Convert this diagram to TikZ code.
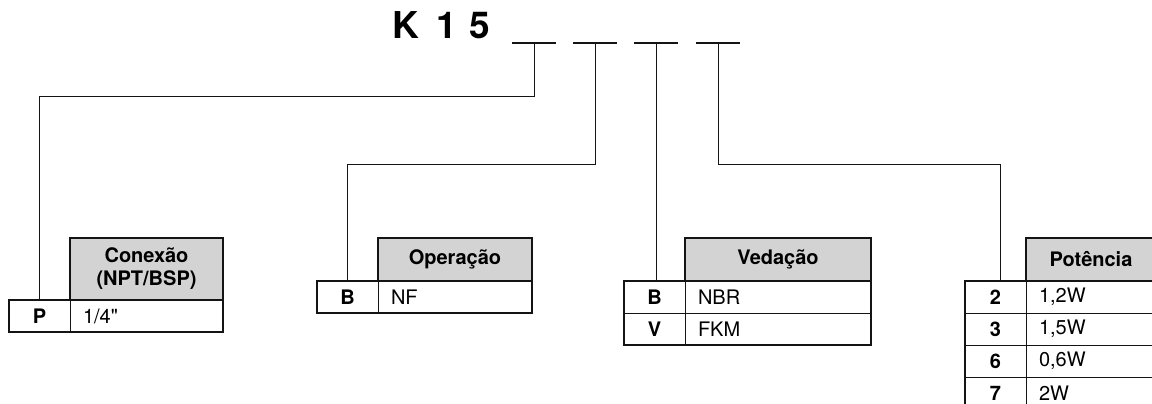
\documentclass[tikz,border=0pt]{standalone}
\usepackage{fontspec}
\setmainfont{TeX Gyre Heros}
\usetikzlibrary{calc}
\definecolor{hdr}{RGB}{211,211,211}
\definecolor{ink}{RGB}{20,20,20}
\newcommand{\straightquote}{\XeTeXglyph\the\XeTeXcharglyph"22\relax}
\begin{document}
\begin{tikzpicture}[x=1pt,y=-1pt,
  hdrbox/.style={draw=ink, fill=hdr, line width=2.2pt, inner sep=0pt, outer sep=0pt,
    anchor=north west, align=center, font=\fontsize{20}{23}\selectfont\bfseries},
  keycell/.style={draw=ink, line width=0.8pt, inner sep=0pt, outer sep=0pt, anchor=north west,
    minimum width=61pt, minimum height=32pt, font=\fontsize{20}{23}\selectfont\bfseries},
  valcell/.style={draw=ink, line width=0.8pt, inner ysep=0pt, inner xsep=13pt, outer sep=0pt,
    anchor=north west, minimum height=32pt, text width=#1, align=left,
    font=\fontsize{20}{23}\selectfont},
  outer/.style={draw=ink, line width=2.2pt},
  conn/.style={draw=ink, line width=0.9pt},
  uline/.style={draw=ink, line width=1.8pt}]
\useasboundingbox (0,0) rectangle (1152,404);
\clip (0,0) rectangle (1152,404);

% title
\node[font=\fontsize{37}{40}\selectfont\bfseries, anchor=base west, inner sep=0pt] (title)
  at (392,39) {K\hspace{18pt}1\hspace{12pt}5};

% placeholders
\coordinate (u1) at (534,43);
\coordinate (u2) at (595,43);
\coordinate (u3) at (656,43);
\coordinate (u4) at (718,43);
\foreach \u in {u1,u2,u3,u4} \draw[uline] ($(\u)+(-22,0)$) -- ($(\u)+(22,0)$);

% Conexao table
\node[hdrbox, minimum width=153pt, minimum height=62pt] (h1) at (70,238) {Conexão\\(NPT/BSP)};
\node[keycell] (k1) at (9,300) {P};
\node[valcell=127pt] (v1) at (70,300) {1/4\straightquote};
\draw[outer] (k1.north west) rectangle (v1.south east);

% Operacao table
\node[hdrbox, minimum width=154pt, minimum height=43pt] (h2) at (378,238) {Operação};
\node[keycell] (k2) at (317,281) {B};
\node[valcell=128pt] (v2) at (378,281) {NF};
\draw[outer] (k2.north west) rectangle (v2.south east);

% Vedacao table
\node[hdrbox, minimum width=186pt, minimum height=43pt] (h3) at (685,238) {Vedação};
\node[keycell] (k3a) at (624,281) {B};
\node[valcell=160pt] (v3a) at (685,281) {NBR};
\node[keycell] (k3b) at (624,313) {V};
\node[valcell=160pt] (v3b) at (685,313) {FKM};
\draw[outer] (k3a.north west) rectangle (v3b.south east);

% Potencia table
\node[hdrbox, minimum width=130pt, minimum height=43pt] (h4) at (1026,238) {Potência};
\node[keycell] (k4a) at (965,281) {2};
\node[valcell=104pt] (v4a) at (1026,281) {1,2W};
\node[keycell] (k4b) at (965,313) {3};
\node[valcell=104pt] (v4b) at (1026,313) {1,5W};
\node[keycell] (k4c) at (965,345) {6};
\node[valcell=104pt] (v4c) at (1026,345) {0,6W};
\node[keycell] (k4d) at (965,377) {7};
\node[valcell=104pt] (v4d) at (1026,377) {2W};
\draw[outer] (k4a.north west) rectangle (v4d.south east);

% connectors
\draw[conn] (u1) -- ++(0,53.5) -| (k1.north);
\draw[conn] (u2) -- ++(0,121) -| (k2.north);
\draw[conn] (u3) -- (u3 |- k3a.north);
\draw[conn] (u4) -- ++(0,121) -| ($(k4a.north)+(5,0)$);
\end{tikzpicture}
\end{document}
